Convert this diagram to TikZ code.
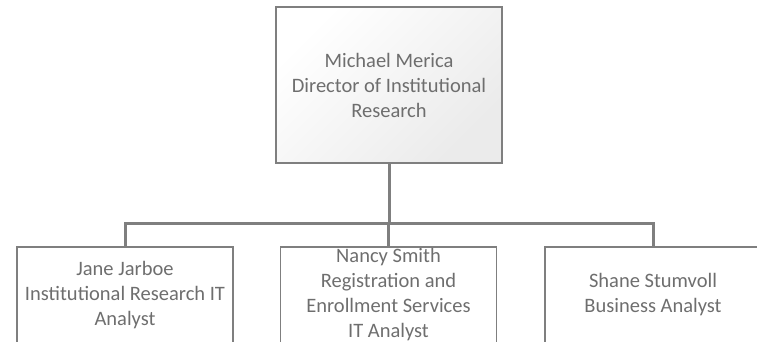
\documentclass[tikz,border=0pt]{standalone}
\usepackage{fontspec}
\setmainfont{Carlito}
\usepackage{tikz}
\usetikzlibrary{calc}
\definecolor{chartline}{HTML}{7F7F7F}
\definecolor{charttext}{HTML}{6E6E6E}

\begin{document}
\begin{tikzpicture}[
		x=1pt,y=-1pt,
		box/.style={draw=chartline,line width=1.6pt,inner sep=0pt,align=center,
			minimum width=216pt,minimum height=96pt,text=charttext,
			font=\fontsize{20.5}{25}\selectfont},
		headbox/.style={box,line width=2pt,minimum width=226pt,minimum height=156pt,
			top color=white,bottom color=black!8,shading angle=45},
		link/.style={draw=chartline,line width=3pt}
		]
		\useasboundingbox (0,0) rectangle (757,342);
		\clip (0,0) rectangle (757,342);
		% manual positions
		\node[headbox] (director) at (389,85)
		{Michael Merica\\Director of Institutional\\Research};
		
		\node[box] (jane) at (125,295)
		{Jane Jarboe\\Institutional Research IT\\Analyst};
		\node[box] (nancy) at (388.5,295)
		{Nancy Smith\\Registration and\\Enrollment Services\\IT Analyst};
		\node[box] (shane) at (653,295)
		{Shane Stumvoll\\Business Analyst};
		
		\coordinate (bus) at (389,223);
		
		% connectors
		\draw[link] (director.south) -- (bus);
		\draw[link] (bus) -| (jane.north);
		\draw[link] (bus) -| (nancy.north);
		\draw[link] (bus) -| (shane.north);
	\end{tikzpicture}
\end{document}
